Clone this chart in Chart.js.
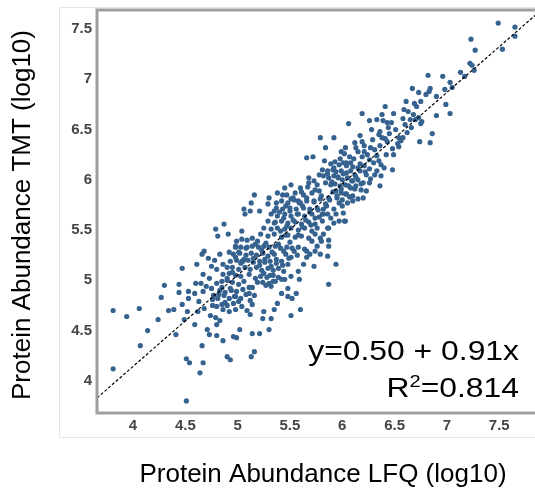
<!DOCTYPE html>
<html>
<head>
<meta charset="utf-8">
<script src="https://cdn.jsdelivr.net/npm/chart.js@4.4.1/dist/chart.umd.min.js"></script>
<style>
  html, body { margin: 0; padding: 0; background: #fff; overflow: hidden; }
  #wrap { width: 545px; height: 496px; }
</style>
</head>
<body>
<div id="wrap"><canvas id="scatter" width="545" height="496"></canvas></div>
<script>
// values (log10 abundances)
const lfq = [
  7.49,7.65,7.65,7.23,7.53,7.27,7.22,7.24,7.26,7.13,7.17,6.82,6.96,7.03,6.98,7.05,6.67,6.73,6.84,6.83,
  6.80,6.90,6.61,6.69,6.75,6.71,6.41,6.99,7.03,6.90,6.19,6.38,6.49,6.59,6.63,6.68,6.58,6.65,6.73,6.76,
  6.75,6.06,6.26,6.33,6.39,6.43,6.28,6.44,6.74,6.86,6.84,5.79,5.92,6.17,6.35,6.38,6.41,6.43,6.54,6.56,
  6.58,6.53,6.54,6.48,6.49,6.42,6.12,6.19,6.21,6.13,6.15,6.21,6.27,6.31,6.33,6.36,6.29,5.84,6.03,5.99,
  5.66,5.72,6.02,6.07,6.19,6.26,6.35,6.37,6.40,6.48,6.37,6.36,6.26,6.23,6.17,6.15,6.10,6.21,6.31,6.26,
  5.83,5.89,5.93,5.97,6.01,6.04,6.08,5.81,5.86,5.91,5.94,5.99,6.04,6.08,6.12,5.78,5.82,5.87,5.92,5.96,
  6.00,6.05,6.10,6.15,6.20,5.68,5.73,5.76,5.84,5.89,5.93,5.98,6.03,6.08,6.13,6.18,6.23,5.94,5.99,6.04,
  6.10,6.15,6.20,5.95,6.00,6.05,6.10,5.97,5.87,5.84,5.92,6.01,6.03,5.94,5.89,5.82,5.87,
  5.51,5.60,5.68,5.47,5.55,5.63,5.71,5.78,5.42,5.48,5.54,5.60,5.66,5.73,5.79,5.37,5.43,5.50,5.56,5.63,
  5.69,5.76,5.82,5.32,5.38,5.45,5.51,5.58,5.64,5.71,5.78,5.29,5.35,5.42,5.48,5.55,5.61,5.68,5.74,5.81,
  5.25,5.32,5.38,5.45,5.51,5.58,5.64,5.71,5.76,5.86,5.22,5.29,5.35,5.42,5.48,5.55,5.61,5.68,5.74,5.79,
  5.06,5.07,5.13,5.16,5.21,5.30,5.37,5.38,4.99,5.04,5.09,5.14,5.19,4.98,5.03,5.08,5.14,5.20,5.25,5.30,
  5.36,5.41,5.47,5.52,5.58,5.64,4.96,5.02,5.08,5.13,5.18,5.24,5.29,5.35,5.46,5.51,5.57,4.93,4.99,5.04,
  5.10,5.15,5.21,5.26,5.31,5.37,5.42,5.48,4.90,4.95,5.01,5.07,5.12,5.18,5.23,5.29,5.34,5.39,5.44,4.86,
  4.92,4.98,5.03,5.22,5.28,5.34,5.39,5.24,5.30,5.36,5.45,5.51,5.58,5.63,5.66,5.69,5.74,5.79,5.86,5.87,
  5.94,5.87,5.73,5.59,5.48,5.42,5.32,5.19,5.14,5.56,5.52,5.60,5.51,5.38,5.35,5.32,5.30,5.25,5.24,5.42,5.48,
  4.68,4.66,4.72,4.78,4.83,4.86,4.80,4.75,4.61,4.67,4.73,4.80,4.85,4.90,4.95,5.01,5.06,5.11,4.60,4.65,
  4.70,4.75,4.83,4.88,4.94,4.99,5.05,5.11,5.16,4.53,4.59,4.67,4.77,4.81,4.87,4.92,4.98,5.03,5.08,5.12,
  5.14,5.01,4.96,4.90,4.85,4.80,4.76,4.86,4.92,4.98,5.04,5.09,5.12,4.74,4.79,4.83,4.80,4.71,4.73,4.80,
  4.86,4.96,4.99,5.02,5.14,5.21,4.66,4.90,4.93,5.13,5.16,4.51,4.54,4.67,4.64,4.51,4.59,4.52,4.49,4.41,
  4.47,4.53,4.63,4.68,4.62,
  3.81,3.94,4.06,4.14,4.07,3.81,4.24,4.27,4.30,4.34,4.39,4.44,4.47,4.44,
  4.79,4.81,4.87,4.91,4.98,4.92,4.98,5.04,5.05,
  5.86,5.92,5.97,6.02,5.80,5.76,5.71,5.87,5.82,5.66,
  5.12,5.29,5.35,5.51,5.45,5.58,5.43,
  5.17,5.23,5.27,5.33,5.39,5.44,5.50,5.15,5.21,5.26,5.32,5.37,5.43,5.49,5.54,5.11,5.17,5.25,5.31,5.34,
  5.27,5.06,5.01,5.09,5.03,4.95,4.90,4.85,4.93,4.97,4.88,4.82,4.76,
  5.58,5.62,5.65,5.70,5.74,5.69,5.62,5.57,5.53,5.47,5.44,5.50,5.59,5.66,5.73,5.77,5.81,5.85,5.80,5.74,
  5.67,5.61,5.53,5.46,5.40,5.36,5.41,5.46,
  5.88,5.91,5.95,5.99,6.03,6.06,6.09,6.13,6.01,5.96,5.90,5.86,5.92,5.98,6.04,6.11,6.17,6.22,6.27,6.33,
  6.30,6.24,6.18,6.12,6.07,6.00,
  6.45,6.51,6.60,6.66,6.70,6.62,6.47,6.36
];
const tmt = [
  7.56,7.52,7.43,7.40,7.30,7.29,7.16,7.14,7.09,7.07,7.03,7.04,7.03,6.97,6.90,6.92,6.91,6.87,6.91,6.88,
  6.85,6.83,6.78,6.76,6.78,6.73,6.73,6.75,6.66,6.64,6.66,6.65,6.66,6.70,6.68,6.65,6.61,6.60,6.62,6.58,
  6.56,6.56,6.59,6.60,6.59,6.57,6.50,6.52,6.38,6.46,6.37,6.42,6.42,6.44,6.45,6.42,6.41,6.38,6.42,6.39,
  6.42,6.36,6.33,6.31,6.25,6.25,6.37,6.38,6.34,6.32,6.28,6.28,6.32,6.30,6.24,6.34,6.40,6.32,6.32,6.28,
  6.22,6.23,6.26,6.23,6.23,6.20,6.19,6.15,6.12,6.10,6.04,5.94,5.97,6.05,6.09,6.12,6.13,6.14,6.05,6.11,
  6.19,6.16,6.18,6.15,6.17,6.14,6.17,6.10,6.09,6.10,6.08,6.09,6.07,6.09,6.05,6.05,6.04,6.02,6.04,6.02,
  6.00,6.02,5.99,6.00,5.97,6.02,5.99,5.95,5.97,5.95,5.96,5.94,5.95,5.92,5.94,5.90,5.89,5.89,5.87,5.86,
  5.84,5.81,5.82,5.82,5.80,5.77,5.79,5.77,5.82,5.76,5.71,5.67,5.59,5.66,5.62,5.66,5.52,
  5.95,5.92,5.97,5.85,5.87,5.85,5.87,5.89,5.79,5.77,5.80,5.77,5.79,5.79,5.81,5.72,5.71,5.72,5.71,5.72,
  5.71,5.72,5.71,5.66,5.64,5.66,5.64,5.66,5.64,5.66,5.63,5.59,5.57,5.59,5.57,5.58,5.56,5.58,5.56,5.59,
  5.52,5.51,5.52,5.51,5.52,5.50,5.52,5.49,5.52,5.52,5.46,5.44,5.46,5.43,5.45,5.43,5.44,5.42,5.46,5.42,
  5.71,5.66,5.77,5.85,5.69,5.82,5.77,5.87,5.39,5.41,5.40,5.42,5.39,5.33,5.33,5.32,5.34,5.33,5.34,5.33,
  5.34,5.32,5.33,5.32,5.33,5.31,5.26,5.27,5.25,5.27,5.25,5.27,5.24,5.26,5.26,5.23,5.25,5.19,5.20,5.19,
  5.20,5.18,5.19,5.18,5.19,5.17,5.19,5.16,5.13,5.13,5.11,5.13,5.11,5.13,5.10,5.12,5.10,5.12,5.09,5.06,
  5.07,5.05,5.04,5.04,5.03,5.05,5.03,4.98,4.97,4.99,5.01,5.04,5.09,5.16,5.23,5.26,5.29,5.26,5.24,5.34,
  5.16,4.96,5.14,5.01,4.92,4.87,4.94,4.98,4.93,4.87,4.82,4.71,4.65,4.77,4.71,4.62,4.51,4.69,4.62,5.01,4.84,
  5.29,5.26,5.22,5.20,5.26,5.16,5.11,5.14,5.16,5.06,5.02,4.97,4.99,5.00,4.98,4.96,4.99,4.93,4.97,4.97,
  4.94,4.92,4.90,4.88,4.90,4.89,4.91,4.87,4.85,4.89,4.87,4.89,4.85,4.82,4.85,4.82,4.84,4.82,4.86,4.80,
  4.76,4.79,4.77,4.75,4.76,4.74,4.75,4.71,4.69,4.71,4.74,4.70,4.66,4.65,4.63,4.60,4.56,4.51,4.46,4.45,
  4.40,4.44,4.43,4.51,4.47,4.47,4.35,4.24,4.21,4.24,4.29,4.22,4.18,4.18,4.08,3.80,4.56,4.69,4.61,4.46,
  4.76,4.82,4.79,4.72,4.69,
  4.70,4.64,4.72,4.50,4.35,4.12,4.61,4.83,4.95,4.70,4.71,4.96,5.12,4.88,
  5.51,5.44,5.56,5.46,5.34,5.28,5.23,5.49,5.19,
  5.66,5.57,5.59,5.59,5.39,5.34,5.39,5.40,5.46,5.29,
  5.69,5.76,5.69,5.81,5.92,5.79,5.85,
  5.36,5.30,5.37,5.28,5.36,5.29,5.38,5.22,5.15,5.21,5.14,5.21,5.15,5.22,5.29,5.06,5.02,5.07,5.05,4.99,
  4.95,5.21,5.28,5.33,5.17,5.08,5.02,4.93,4.92,4.84,4.78,4.86,4.81,
  5.45,5.53,5.60,5.55,5.62,5.68,5.74,5.66,5.60,5.54,5.62,5.69,5.77,5.82,5.78,5.70,5.66,5.74,5.84,5.90,
  5.93,5.88,5.82,5.74,5.68,5.58,5.49,5.45,
  5.80,5.88,5.84,5.91,5.86,5.94,5.99,6.03,6.06,6.03,5.98,6.06,6.12,6.21,6.17,6.21,6.16,6.08,6.01,6.09,
  6.17,6.25,5.96,5.91,5.83,5.74,
  6.46,6.50,6.55,6.52,6.60,6.47,6.57,6.48
];
// fitted line end points as drawn (y=0.50+0.91x)
const fitX = [3.656, 7.88];
const fitY = [3.83, 7.67];

const xTicks = [4, 4.5, 5, 5.5, 6, 6.5, 7, 7.5];
const yTicks = [4, 4.5, 5, 5.5, 6, 6.5, 7, 7.5];
const xTitle = 'Protein Abundance LFQ (log10)';
const yTitle = 'Protein Abundance TMT (log10)';
const eqText = 'y=0.50 + 0.91x';
const r2Text = '=0.814';

const points = lfq.map((x, i) => ({ x: x, y: tmt[i] }));
const fitLine = fitX.map((x, i) => ({ x: x, y: fitY[i] }));

const FONT = '"Liberation Sans", Arial, sans-serif';

const decor = {
  id: 'decor',
  beforeDraw(chart) {
    const ctx = chart.ctx;
    ctx.save();
    ctx.fillStyle = '#fff';
    ctx.fillRect(0, 0, chart.width, chart.height);
    // faint panel outline
    ctx.strokeStyle = '#e6e6e6';
    ctx.lineWidth = 1;
    ctx.strokeRect(59.5, 7.5, 500, 430);
    ctx.restore();
  },
  afterDatasetsDraw(chart) {
    const ctx = chart.ctx;
    const a = chart.chartArea;
    ctx.save();
    ctx.strokeStyle = '#9f9f9f';
    ctx.lineWidth = 3;
    ctx.strokeRect(a.left, a.top, a.right - a.left, a.bottom - a.top);

    ctx.fillStyle = '#000';
    ctx.font = '26px ' + FONT;
    // axis titles
    ctx.textAlign = 'center';
    ctx.textBaseline = 'alphabetic';
    ctx.fillText(xTitle, 323, 482);
    ctx.save();
    ctx.translate(30, 215);
    ctx.rotate(-Math.PI / 2);
    ctx.fillText(yTitle, 0, 0);
    ctx.restore();

    // equation, a bit stretched like the original
    ctx.save();
    ctx.translate(519, 360);
    ctx.scale(1.18, 1);
    ctx.font = '27px ' + FONT;
    ctx.textAlign = 'right';
    ctx.fillText(eqText, 0, 0);
    ctx.restore();

    ctx.save();
    ctx.translate(519, 397);
    ctx.scale(1.18, 1);
    ctx.textAlign = 'left';
    const big = '27px ' + FONT, small = '17px ' + FONT;
    ctx.font = big;
    const wR = ctx.measureText('R').width;
    const wRest = ctx.measureText(r2Text).width;
    ctx.font = small;
    const w2 = ctx.measureText('2').width;
    let x = -(wR + w2 + wRest);
    ctx.font = big;
    ctx.fillText('R', x, 0);
    x += wR;
    ctx.font = small;
    ctx.fillText('2', x, -10);
    x += w2;
    ctx.font = big;
    ctx.fillText(r2Text, x, 0);
    ctx.restore();

    ctx.restore();
  }
};

const tickFont = { family: FONT, size: 15, weight: 'bold' };

new Chart(document.getElementById('scatter'), {
  type: 'scatter',
  data: {
    datasets: [
      {
        label: 'proteins',
        data: points,
        backgroundColor: '#36628f',
        borderWidth: 0,
        pointRadius: 2.6,
        order: 2
      },
      {
        type: 'line',
        label: 'fit',
        data: fitLine,
        borderColor: '#000',
        borderWidth: 1.2,
        borderDash: [3, 2],
        pointRadius: 0,
        fill: false,
        order: 1
      }
    ]
  },
  options: {
    responsive: false,
    animation: false,
    layout: { padding: { top: 10, right: 6, left: 0, bottom: 0 } },
    plugins: { legend: { display: false }, tooltip: { enabled: false } },
    scales: {
      x: {
        type: 'linear',
        min: 3.656,
        max: 7.88,
        grid: { display: false, drawTicks: false },
        border: { display: false },
        afterBuildTicks: s => { s.ticks = xTicks.map(v => ({ value: v })); },
        afterFit: s => { s.height = 83; s.paddingLeft = 0; s.paddingRight = 0; },
        ticks: {
          font: tickFont,
          color: '#444',
          padding: 4,
          maxRotation: 0,
          callback: v => String(v)
        }
      },
      y: {
        type: 'linear',
        min: 3.68,
        max: 7.69,
        grid: { display: false, drawTicks: false },
        border: { display: false },
        afterBuildTicks: s => { s.ticks = yTicks.map(v => ({ value: v })); },
        afterFit: s => { s.width = 97; s.paddingTop = 0; s.paddingBottom = 0; },
        ticks: {
          font: tickFont,
          color: '#444',
          padding: 5,
          callback: v => String(v)
        }
      }
    }
  },
  plugins: [decor]
});
</script>
</body>
</html>
